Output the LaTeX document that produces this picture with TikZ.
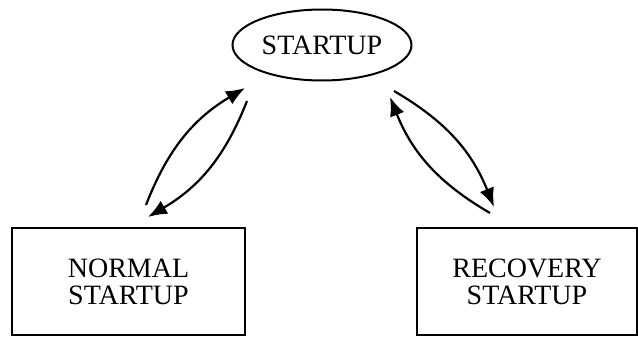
\documentclass[tikz,border=0pt]{standalone}
\usepackage{fontspec}
\setmainfont{Liberation Serif}
\usetikzlibrary{arrows.meta,shapes.geometric}
\tikzset{>={Latex[length=19pt,width=15pt]}}
\tikzset{
  statebox/.style={draw, line width=2pt, inner sep=0pt, align=center,
    font=\fontsize{28}{27}\selectfont},
  link/.style={->, line width=2.2pt, bend left=19}
}
\begin{document}
\begin{tikzpicture}[x=1pt, y=-1pt]
    \useasboundingbox (0,0) rectangle (638,337);
    \node[statebox, ellipse, minimum width=179pt, minimum height=71pt] (st) at (322,45) {STARTUP};
    \node[statebox, minimum width=233pt, minimum height=107pt] (nrm) at (128.5,281.5) {NORMAL\\STARTUP};
    \node[statebox, minimum width=220pt, minimum height=107pt] (rec) at (527,281.5) {RECOVERY\\STARTUP};
    % free ends of the arrows
    \coordinate (a1) at (146,205);
    \coordinate (a2) at (245,88);
    \coordinate (b1) at (247,101);
    \coordinate (b2) at (148,217);
    \coordinate (c1) at (490,213);
    \coordinate (c2) at (390,97);
    \coordinate (d1) at (394,91);
    \coordinate (d2) at (494,207);
    \draw[link] (a1) to (a2);
    \draw[link] (b1) to (b2);
    \draw[link] (c1) to (c2);
    \draw[link] (d1) to (d2);
\end{tikzpicture}
\end{document}
